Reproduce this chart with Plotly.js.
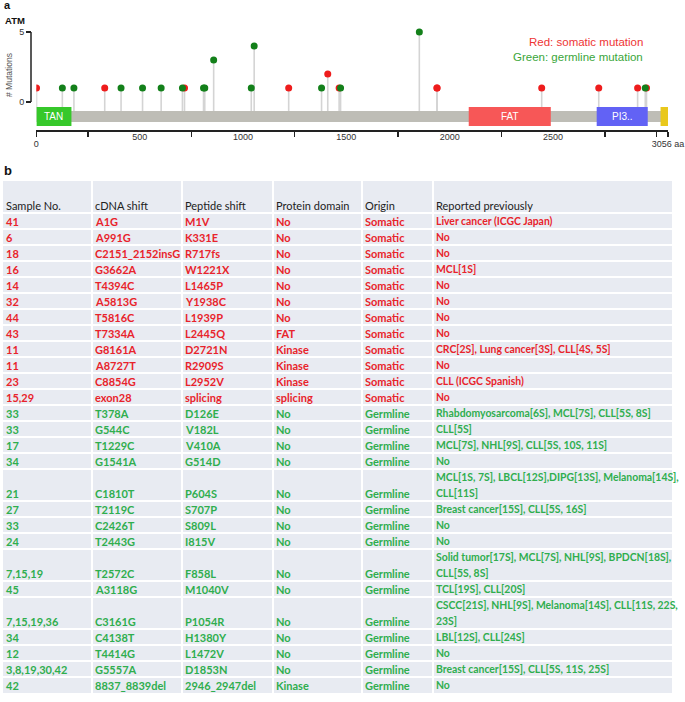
<!DOCTYPE html>
<html><head><meta charset="utf-8">
<script src="https://cdn.plot.ly/plotly-3.0.1.min.js"></script>
<style>html,body{margin:0;padding:0;background:#fff}#chart{width:685px;height:702px}</style>
</head><body><div id="chart"></div>
<script>
// ---------- Panel a: lollipop data ----------
const proteinLength = 3056;
const somaticPos   = [1, 331, 717, 1221, 1410, 1465, 1938, 1939, 2445, 2721, 2909, 2952];
const somaticCount = [1, 1, 1, 1, 2, 1, 1, 1, 1, 1, 1, 1];
const germlinePos   = [126, 182, 410, 514, 604, 707, 809, 815, 858, 1040, 1054, 1380, 1472, 1853, 2946];
const germlineCount = [1, 1, 1, 1, 1, 1, 1, 1, 3, 1, 4, 1, 1, 5, 1];
const domainNames = ['TAN', 'FAT', 'PI3..', ''];
const domainStart = [1, 2092, 2711, 3020];
const domainEnd   = [170, 2489, 2958, 3056];
const domainColors = ['#36c82a', '#f75757', '#6262f5', '#e9c81c'];
const yTickVals = [0, 5];
const xMinorTicks = [0, 250, 750, 1250, 1750, 2250, 2750, 3000, 3056];
const xEndTicks = [0, 3056];
const xEndLabels = ['0', '3056 aa'];
const xMidTicks = [500, 1000, 1500, 2000, 2500];

// ---------- Panel b: table data ----------
const header = ['Sample No.', 'cDNA shift', 'Peptide shift', 'Protein domain', 'Origin', 'Reported previously'];
const sampleNo = ['41','6','18','16','14','32','44','43','11','11','23','15,29','33','33','17','34','21','27','33','24','7,15,19','45','7,15,19,36','34','12','3,8,19,30,42','42'];
const cdnaShift = ['A1G','A991G','C2151_2152insG','G3662A','T4394C','A5813G','T5816C','T7334A','G8161A','A8727T','C8854G','exon28','T378A','G544C','T1229C','G1541A','C1810T','T2119C','C2426T','T2443G','T2572C','A3118G','C3161G','C4138T','T4414G','G5557A','8837_8839del'];
const peptideShift = ['M1V','K331E','R717fs','W1221X','L1465P','Y1938C','L1939P','L2445Q','D2721N','R2909S','L2952V','splicing','D126E','V182L','V410A','G514D','P604S','S707P','S809L','I815V','F858L','M1040V','P1054R','H1380Y','L1472V','D1853N','2946_2947del'];
const proteinDomain = ['No','No','No','No','No','No','No','FAT','Kinase','Kinase','Kinase','splicing','No','No','No','No','No','No','No','No','No','No','No','No','No','No','Kinase'];
const origin = ['Somatic','Somatic','Somatic','Somatic','Somatic','Somatic','Somatic','Somatic','Somatic','Somatic','Somatic','Somatic','Germline','Germline','Germline','Germline','Germline','Germline','Germline','Germline','Germline','Germline','Germline','Germline','Germline','Germline','Germline'];
const reported = ['Liver cancer (ICGC Japan)','No','No','MCL[1S]','No','No','No','No','CRC[2S], Lung cancer[3S], CLL[4S, 5S]','No','CLL (ICGC Spanish)','No','Rhabdomyosarcoma[6S], MCL[7S], CLL[5S, 8S]','CLL[5S]','MCL[7S], NHL[9S], CLL[5S, 10S, 11S]','No','MCL[1S, 7S], LBCL[12S],DIPG[13S], Melanoma[14S],<br>CLL[11S]','Breast cancer[15S], CLL[5S, 16S]','No','No','Solid tumor[17S], MCL[7S], NHL[9S], BPDCN[18S],<br>CLL[5S, 8S]','TCL[19S], CLL[20S]','CSCC[21S], NHL[9S], Melanoma[14S], CLL[11S, 22S,<br>23S]','LBL[12S], CLL[24S]','No','Breast cancer[15S], CLL[5S, 11S, 25S]','No'];

// ---------- styling / layout constants ----------
const RED = '#ee1c1c', GREEN = '#13801a';
const TXT_RED = '#e8232b', TXT_GREEN = '#2fae4e';
const tableFont = 'Lato, Roboto, sans-serif';
const tableSize = 11, reportedSize = 10.4;
const colEdges = [3, 92, 182, 273, 362, 433, 672];
const tableTop = 181, headerH = 32, rowH = 16;
const stemBase = -0.643, barTop = -0.643, barBot = -1.43, boxTop = -0.36, boxBot = -1.71;

// ---------- traces ----------
function stems(pos, cnt) {
  const x = [], y = [];
  pos.forEach((p, i) => { x.push(p, p, null); y.push(stemBase, cnt[i], null); });
  return {x, y};
}
const sS = stems(somaticPos, somaticCount), gS = stems(germlinePos, germlineCount);
const traces = [
  {type:'scatter', mode:'lines', x:sS.x, y:sS.y, line:{color:'#d4d4d4', width:1.6}, hoverinfo:'skip', showlegend:false},
  {type:'scatter', mode:'lines', x:gS.x, y:gS.y, line:{color:'#d4d4d4', width:1.6}, hoverinfo:'skip', showlegend:false},
  {type:'scatter', mode:'markers', x:somaticPos, y:somaticCount, marker:{color:RED, size:7}, showlegend:false},
  {type:'scatter', mode:'markers', x:germlinePos, y:germlineCount, marker:{color:GREEN, size:7}, showlegend:false},
  {type:'scatter', mode:'markers', x:xMidTicks, y:xMidTicks.map(()=>null), xaxis:'x3', yaxis:'y', showlegend:false, hoverinfo:'skip'},
  {type:'scatter', mode:'markers', x:[0], y:[0], xaxis:'x2', yaxis:'y2', marker:{opacity:0}, showlegend:false, hoverinfo:'skip'}
];

// ---------- shapes ----------
const shapes = [];
shapes.push({type:'rect', xref:'x', yref:'y', x0:0, x1:proteinLength, y0:barBot, y1:barTop, fillcolor:'#bebdb6', line:{width:0}, layer:'below'});
domainNames.forEach((n, i) => {
  shapes.push({type:'rect', xref:'x', yref:'y', x0:domainStart[i], x1:domainEnd[i], y0:boxBot, y1:boxTop, fillcolor:domainColors[i], line:{width:0}});
});
shapes.push({type:'line', xref:'paper', yref:'y', x0:31/685, x1:31/685, y0:0, y1:5, line:{color:'#222', width:1.5}});

// table geometry from row line counts
const reportedLines = reported.map(r => r.split('<br>'));
const nLines = reportedLines.map(l => l.length);
const rowTop = [], rowBot = [];
let yy = tableTop + headerH;
nLines.forEach(n => { rowTop.push(yy); yy += n * rowH; rowBot.push(yy); });
const tableBottom = yy;
shapes.push({type:'rect', xref:'x2', yref:'y2', x0:colEdges[0], x1:colEdges[6], y0:tableTop, y1:tableBottom, fillcolor:'#e8ebf2', line:{width:0}, layer:'below'});
rowTop.forEach(t => shapes.push({type:'line', xref:'x2', yref:'y2', x0:colEdges[0], x1:colEdges[6], y0:t, y1:t, line:{color:'#ffffff', width:2}}));
colEdges.slice(1, 6).forEach(c => shapes.push({type:'line', xref:'x2', yref:'y2', x0:c, x1:c, y0:tableTop, y1:tableBottom, line:{color:'#ffffff', width:2}}));

// ---------- annotations ----------
const ann = [];
domainNames.forEach((n, i) => {
  if (n) ann.push({xref:'x', yref:'y', x:(domainStart[i] + domainEnd[i]) / 2, y:(boxTop + boxBot) / 2, text:n, showarrow:false, font:{family:'Liberation Sans, Arial, sans-serif', size:10, color:'#ffffff'}});
});
ann.push({xref:'paper', yref:'paper', x:645/685, y:1 - 42/702, xanchor:'right', yanchor:'middle', text:'Red: somatic mutation', showarrow:false, font:{family:'Liberation Sans, Arial, sans-serif', size:11.5, color:'#ee3434'}});
ann.push({xref:'paper', yref:'paper', x:645/685, y:1 - 57/702, xanchor:'right', yanchor:'middle', text:'Green: germline mutation', showarrow:false, font:{family:'Liberation Sans, Arial, sans-serif', size:11.5, color:'#3aa63a'}});
ann.push({xref:'paper', yref:'paper', x:2/685, y:1 + 3/702, xanchor:'left', yanchor:'top', text:'<b>a</b>', showarrow:false, font:{family:'Liberation Sans, Arial, sans-serif', size:11, color:'#111'}});
ann.push({xref:'paper', yref:'paper', x:3/685, y:1 - 13/702, xanchor:'left', yanchor:'top', text:'<b>ATM</b>', showarrow:false, font:{family:'Liberation Sans, Arial, sans-serif', size:9.5, color:'#111'}});
ann.push({xref:'paper', yref:'paper', x:2/685, y:1 - 161/702, xanchor:'left', yanchor:'top', text:'<b>b</b>', showarrow:false, font:{family:'Liberation Sans, Arial, sans-serif', size:13, color:'#111'}});

// table header
header.forEach((h, c) => ann.push({xref:'x2', yref:'y2', x:colEdges[c] + 1, y:tableTop + headerH - 7.5, xanchor:'left', yanchor:'middle', text:h, showarrow:false, font:{family:tableFont, size:tableSize, color:'#222'}}));
// table body
const cols = [sampleNo, cdnaShift, peptideShift, proteinDomain, origin];
nLines.forEach((n, r) => {
  const col = origin[r] === 'Somatic' ? TXT_RED : TXT_GREEN;
  const lastLineY = rowBot[r] - rowH / 2;
  cols.forEach((arr, c) => ann.push({xref:'x2', yref:'y2', x:colEdges[c] + 1, y:lastLineY, xanchor:'left', yanchor:'middle', text:'<b>' + arr[r] + '</b>', showarrow:false, font:{family:tableFont, size:tableSize, color:col}}));
  reportedLines[r].forEach((line, k) => ann.push({xref:'x2', yref:'y2', x:colEdges[5] + 1, y:lastLineY - (n - 1 - k) * rowH, xanchor:'left', yanchor:'middle', text:'<b>' + line + '</b>', showarrow:false, font:{family:tableFont, size:reportedSize, color:col}}));
});

const layout = {
  width:685, height:702, margin:{l:0, r:0, t:0, b:0}, paper_bgcolor:'#fff', plot_bgcolor:'rgba(0,0,0,0)',
  showlegend:false,
  xaxis:{domain:[36.3/685, 668/685], range:[0, proteinLength], anchor:'y', showgrid:false, zeroline:false,
         showline:true, linecolor:'#222', linewidth:1.5, tickmode:'array', tickvals:xMinorTicks,
         ticktext:xMinorTicks.map(v => { const k = xEndTicks.indexOf(v); return k >= 0 ? xEndLabels[k] : ''; }),
         ticks:'outside', ticklen:5, tickwidth:1.5, tickcolor:'#222',
         tickfont:{family:'Liberation Sans, Arial, sans-serif', size:9, color:'#333'}, fixedrange:true},
  xaxis3:{domain:[36.3/685, 668/685], range:[0, proteinLength], overlaying:'x', anchor:'y', side:'bottom', showgrid:false, zeroline:false,
          showline:false, tickmode:'array', tickvals:xMidTicks, ticks:'', ticklen:5,
          tickfont:{family:'Liberation Sans, Arial, sans-serif', size:9, color:'#333'}, fixedrange:true},
  yaxis:{domain:[1 - 130/702, 1 - 20/702], range:[-2, 5.857], anchor:'free', position:31/685, showgrid:false, zeroline:false,
         showline:false, tickmode:'array', tickvals:yTickVals, ticks:'outside', ticklen:5, tickwidth:1.5, tickcolor:'#222',
         tickfont:{family:'Liberation Sans, Arial, sans-serif', size:9, color:'#333'},
         title:{text:'# Mutations', font:{family:'Liberation Sans, Arial, sans-serif', size:8.5, color:'#555'}, standoff:4}, fixedrange:true},
  xaxis2:{domain:[0, 1], range:[0, 685], anchor:'y2', visible:false, fixedrange:true},
  yaxis2:{domain:[0, 1], range:[702, 0], anchor:'x2', visible:false, fixedrange:true},
  shapes:shapes, annotations:ann
};
Plotly.newPlot('chart', traces, layout, {displayModeBar:false, staticPlot:true});
</script></body></html>
